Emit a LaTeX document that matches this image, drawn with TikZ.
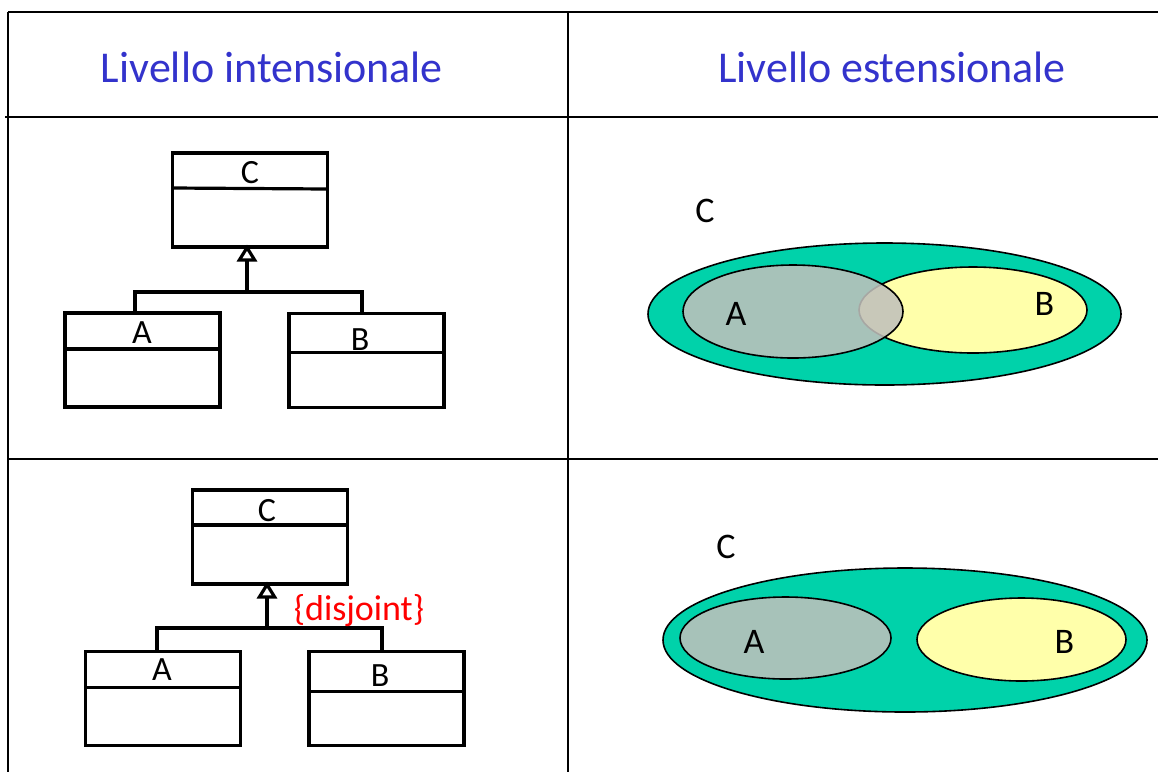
\documentclass[tikz,border=0pt]{standalone}
\usepackage{fontspec}
\setmainfont{Carlito}
\usetikzlibrary{arrows.meta,calc}
\definecolor{hdrblue}{HTML}{3333CC}
\definecolor{cgreen}{HTML}{00D2AA}
\definecolor{agray}{RGB}{192,192,188}
\definecolor{byellow}{HTML}{FFFFAA}
\begin{document}
\begin{tikzpicture}[x=1pt,y=-1pt,
  tabline/.style={line width=1.8pt,black},
  umlbox/.style={draw,line width=3.2pt,inner sep=0pt,outer sep=0pt,minimum width=155pt,minimum height=94pt,fill=white},
  sepline/.style={line width=3.2pt},
  conn/.style={line width=3.2pt},
  gen/.style={line width=3.2pt,shorten >=-2.5pt,-{Triangle[open,length=17pt,width=20pt,line width=3.2pt,fill=white]}},
  umllab/.style={anchor=base,inner sep=0pt,font=\fontsize{34}{38}\selectfont},
  vennlab/.style={anchor=base,inner sep=0pt,font=\fontsize{36}{40}\selectfont},
  hdr/.style={anchor=base,inner sep=0pt,text=hdrblue,font=\fontsize{44}{50}\selectfont},
  outerset/.style={fill=cgreen,draw=black,line width=1.6pt},
  aset/.style={fill=agray,fill opacity=0.87,draw=black,draw opacity=1,line width=1.6pt},
  bset/.style={fill=byellow,draw=black,line width=1.6pt}]
\useasboundingbox (0,0) rectangle (1158,772);
% table
\draw[tabline] (8,12) -- (1158,12);
\draw[tabline] (5,117) -- (1158,117);
\draw[tabline] (8,459) -- (1158,459);
\draw[tabline] (8,12) -- (8,772);
\draw[tabline] (568,12) -- (568,772);
% headers
\node[hdr] (h1) at (272,82) {Livello intensionale};
\node[hdr] (h2) at (892,82) {Livello estensionale};
% ---- top-left UML
\node[umlbox] (C1) at (250,200) {};
\node[umlbox] (A1) at (142.5,360) {};
\node[umlbox] (B1) at (366.5,360.5) {};
\draw[sepline] ($(C1.north west)+(0,35)$) -- ($(C1.north east)+(0,36)$);
\draw[sepline] ($(A1.north west)+(0,36)$) -- ($(A1.north east)+(0,36)$);
\draw[sepline] ($(B1.north west)+(0,39)$) -- ($(B1.north east)+(0,39)$);
\node[umllab] (lC1) at (250,183) {C};
\node[umllab] (lA1) at (142,343) {A};
\node[umllab] (lB1) at (360,350) {B};
\coordinate (j1) at (247,292);
\coordinate (xa1) at (135,0);
\coordinate (xb1) at (362,0);
\draw[conn] (A1.north -| xa1) |- (j1) -| (B1.north -| xb1);
\draw[gen] (j1) -- (C1.south -| j1);
% ---- bottom-left UML
\node[umlbox] (C2) at (270,537) {};
\node[umlbox] (A2) at (163,698.5) {};
\node[umlbox] (B2) at (386.5,698.5) {};
\draw[sepline] ($(C2.north west)+(0,35)$) -- ($(C2.north east)+(0,35)$);
\draw[sepline] ($(A2.north west)+(0,36)$) -- ($(A2.north east)+(0,36)$);
\draw[sepline] ($(B2.north west)+(0,40)$) -- ($(B2.north east)+(0,40)$);
\node[umllab] (lC2) at (267,521) {C};
\node[umllab] (lA2) at (162,680) {A};
\node[umllab] (lB2) at (380,686) {B};
\coordinate (j2) at (267,628);
\coordinate (xa2) at (157,0);
\coordinate (xb2) at (382,0);
\draw[conn] (A2.north -| xa2) |- (j2) -| (B2.north -| xb2);
\draw[gen] (j2) -- (C2.south -| j2);
\node[anchor=base,inner sep=0pt,text=red,font=\fontsize{36}{40}\selectfont] (dj) at (359,620) {\{disjoint\}};
% ---- top-right Venn
\draw[outerset] (884.5,314) ellipse [x radius=236.5pt, y radius=71pt];
\draw[bset] (973,310) ellipse [x radius=114pt, y radius=43pt];
\draw[aset] (793,311.5) ellipse [x radius=110pt, y radius=46.5pt];
\node[vennlab] (vC1) at (705,222) {C};
\node[vennlab] (vA1) at (736,325) {A};
\node[vennlab] (vB1) at (1044.5,315) {B};
% ---- bottom-right Venn
\draw[outerset] (905,640) ellipse [x radius=242pt, y radius=72pt];
\draw[bset] (1021.5,639.5) ellipse [x radius=104.5pt, y radius=41.5pt];
\draw[aset] (785.5,638) ellipse [x radius=105.5pt, y radius=41pt];
\node[vennlab] (vC2) at (726,558) {C};
\node[vennlab] (vA2) at (754,653) {A};
\node[vennlab] (vB2) at (1064.5,653) {B};
\end{tikzpicture}
\end{document}
